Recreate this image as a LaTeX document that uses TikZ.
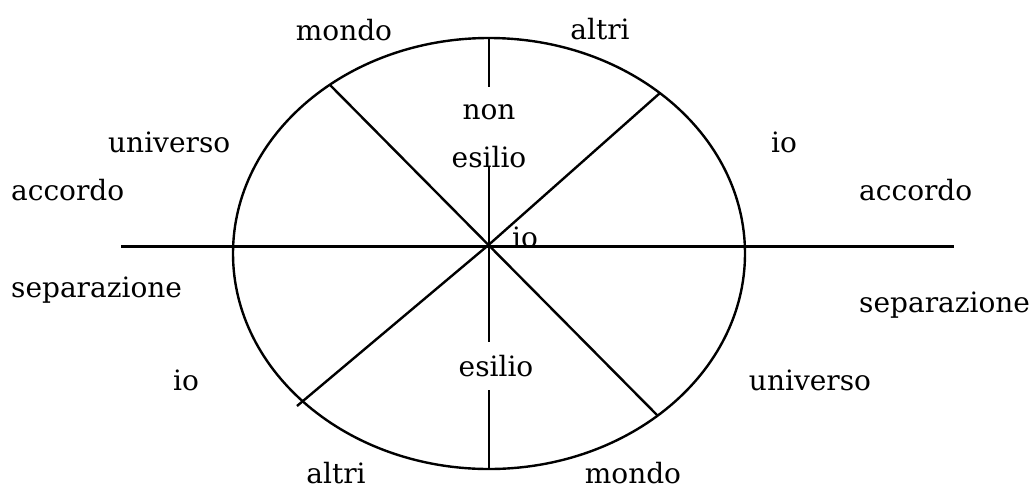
\documentclass[tikz,border=0pt]{standalone}
\usepackage{fontspec}
\setmainfont{DejaVu Serif}
\begin{document}
\begin{tikzpicture}[x=0.75pt,y=-0.75pt,line width=1.8pt,
  lbl/.style={font=\fontsize{21}{25}\selectfont,inner sep=0pt,anchor=base},
  lblw/.style={lbl,anchor=base west}]
\useasboundingbox (0,0) rectangle (1035,490);
\coordinate (O) at (488.5,245);
\coordinate (hl) at (121,246.5);
\coordinate (hr) at (954,246.5);
\coordinate (ul) at (330,85);
\coordinate (ur) at (660,93);
\coordinate (lr) at (658,416);
\coordinate (ll) at (297,406);
\coordinate (vt) at (489,38);
\coordinate (vtend) at (489,87);
\coordinate (vmtop) at (489,166);
\coordinate (vmbot) at (489,342);
\coordinate (vbtop) at (489,390);
\coordinate (vb) at (489,469);
\draw (489,253.5) ellipse [x radius=256, y radius=215.5];
\draw (hl) -- (hr);
\draw (vt) -- (vtend);
\draw (vmtop) -- (vmbot);
\draw (vbtop) -- (vb);
\draw (ul) -- (O) -- (lr);
\draw (ur) -- (O) -- (ll);
\node[lbl] (mondoT) at (344,40) {mondo};
\node[lbl] (altriT) at (600,39) {altri};
\node[lblw] (universoL) at (107,152) {universo};
\node[lblw] (accordoL) at (10,200) {accordo};
\node[lblw] (separazioneL) at (10,297) {separazione};
\node[lblw] (ioR) at (770,152) {io};
\node[lblw] (accordoR) at (858,200) {accordo};
\node[lblw] (separazioneR) at (858,312) {separazione};
\node[lbl] (non) at (489,119) {non};
\node[lbl] (esilioT) at (489,167) {esilio};
\node[lbl] (ioC) at (525,247) {io};
\node[lbl] (esilioB) at (496,376) {esilio};
\node[lbl] (altriB) at (336,483) {altri};
\node[lbl] (mondoB) at (633,483) {mondo};
\node[lbl] (universoR) at (810,390) {universo};
\node[lbl] (ioL) at (186,390) {io};
\end{tikzpicture}
\end{document}
